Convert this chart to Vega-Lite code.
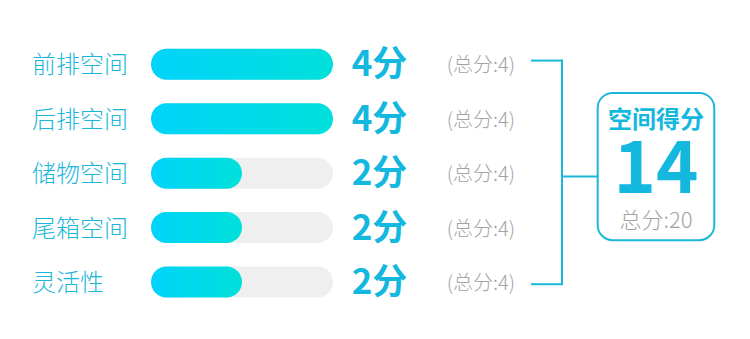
{
  "$schema": "https://vega.github.io/schema/vega-lite/v6.json",
  "width": 750,
  "height": 339,
  "autosize": {"type": "none"},
  "padding": 0,
  "background": "white",
  "config": {"view": {"stroke": null}, "font": "Noto Sans CJK SC"},
  "datasets": {
    "rows": [
      {"row": 0, "item": "前排空间", "score": 4, "total": 4, "scoreLabel": "4分", "totalLabel": "(总分:4)"},
      {"row": 1, "item": "后排空间", "score": 4, "total": 4, "scoreLabel": "4分", "totalLabel": "(总分:4)"},
      {"row": 2, "item": "储物空间", "score": 2, "total": 4, "scoreLabel": "2分", "totalLabel": "(总分:4)"},
      {"row": 3, "item": "尾箱空间", "score": 2, "total": 4, "scoreLabel": "2分", "totalLabel": "(总分:4)"},
      {"row": 4, "item": "灵活性", "score": 2, "total": 4, "scoreLabel": "2分", "totalLabel": "(总分:4)"}
    ],
    "summary": [
      {"title": "空间得分", "score": 14, "totalLabel": "总分:20"}
    ]
  },
  "layer": [
    {
      "data": {"name": "rows"},
      "mark": {"type": "bar", "orient": "horizontal", "height": 31, "cornerRadius": 15.5, "fill": "#efefef"},
      "encoding": {
        "x": {"field": "total", "type": "quantitative", "scale": {"domain": [-3.3187, 13.1648], "nice": false, "zero": false}, "axis": null},
        "x2": {"datum": 0},
        "y": {"field": "row", "type": "quantitative", "scale": {"domain": [-1.0869, 4.9532], "nice": false, "zero": false, "reverse": true}, "axis": null}
      }
    },
    {
      "data": {"name": "rows"},
      "mark": {"type": "bar", "orient": "horizontal", "height": 31, "cornerRadius": 15.5,
        "fill": {"gradient": "linear", "x1": 0, "y1": 0, "x2": 1, "y2": 0, "stops": [{"offset": 0, "color": "#00d3fa"}, {"offset": 1, "color": "#00e0da"}]}},
      "encoding": {
        "x": {"field": "score", "type": "quantitative", "scale": {"domain": [-3.3187, 13.1648], "nice": false, "zero": false}, "axis": null},
        "x2": {"datum": 0},
        "y": {"field": "row", "type": "quantitative", "scale": {"domain": [-1.0869, 4.9532], "nice": false, "zero": false, "reverse": true}, "axis": null}
      }
    },
    {
      "data": {"name": "rows"},
      "mark": {"type": "text", "align": "left", "baseline": "middle", "dy": 2, "fontSize": 24, "fontWeight": 300, "color": "#1cb6da", "font": "Noto Sans CJK SC"},
      "encoding": {
        "x": {"datum": -2.615, "type": "quantitative", "scale": {"domain": [-3.3187, 13.1648], "nice": false, "zero": false}, "axis": null},
        "y": {"field": "row", "type": "quantitative", "scale": {"domain": [-1.0869, 4.9532], "nice": false, "zero": false, "reverse": true}, "axis": null},
        "text": {"field": "item"}
      }
    },
    {
      "data": {"name": "rows"},
      "mark": {"type": "text", "align": "left", "baseline": "middle", "dy": 1, "fontSize": 35, "fontWeight": "bold", "color": "#14b8de", "font": "Noto Sans CJK SC"},
      "encoding": {
        "x": {"datum": 4.411, "type": "quantitative", "scale": {"domain": [-3.3187, 13.1648], "nice": false, "zero": false}, "axis": null},
        "y": {"field": "row", "type": "quantitative", "scale": {"domain": [-1.0869, 4.9532], "nice": false, "zero": false, "reverse": true}, "axis": null},
        "text": {"field": "scoreLabel"}
      }
    },
    {
      "data": {"name": "rows"},
      "mark": {"type": "text", "align": "left", "baseline": "middle", "dy": 2, "fontSize": 20, "fontWeight": 300, "color": "#a3a3a3", "font": "Noto Sans CJK SC"},
      "encoding": {
        "x": {"datum": 6.499, "type": "quantitative", "scale": {"domain": [-3.3187, 13.1648], "nice": false, "zero": false}, "axis": null},
        "y": {"field": "row", "type": "quantitative", "scale": {"domain": [-1.0869, 4.9532], "nice": false, "zero": false, "reverse": true}, "axis": null},
        "text": {"field": "totalLabel"}
      }
    },
    {
      "data": {"values": [{}]},
      "mark": {"type": "rule", "color": "#1ab8db", "strokeWidth": 2},
      "encoding": {
        "x": {"datum": 8.352, "type": "quantitative", "scale": {"domain": [-3.3187, 13.1648], "nice": false, "zero": false}, "axis": null},
        "x2": {"datum": 9.033},
        "y": {"datum": -0.066, "type": "quantitative", "scale": {"domain": [-1.0869, 4.9532], "nice": false, "zero": false, "reverse": true}, "axis": null}
      }
    },
    {
      "data": {"values": [{}]},
      "mark": {"type": "rule", "color": "#1ab8db", "strokeWidth": 2},
      "encoding": {
        "x": {"datum": 8.352, "type": "quantitative", "scale": {"domain": [-3.3187, 13.1648], "nice": false, "zero": false}, "axis": null},
        "x2": {"datum": 9.033},
        "y": {"datum": 4.039, "type": "quantitative", "scale": {"domain": [-1.0869, 4.9532], "nice": false, "zero": false, "reverse": true}, "axis": null}
      }
    },
    {
      "data": {"values": [{}]},
      "mark": {"type": "rule", "color": "#1ab8db", "strokeWidth": 2},
      "encoding": {
        "x": {"datum": 9.033, "type": "quantitative", "scale": {"domain": [-3.3187, 13.1648], "nice": false, "zero": false}, "axis": null},
        "y": {"datum": -0.084, "type": "quantitative", "scale": {"domain": [-1.0869, 4.9532], "nice": false, "zero": false, "reverse": true}, "axis": null},
        "y2": {"datum": 4.057}
      }
    },
    {
      "data": {"values": [{}]},
      "mark": {"type": "rule", "color": "#1ab8db", "strokeWidth": 2},
      "encoding": {
        "x": {"datum": 9.033, "type": "quantitative", "scale": {"domain": [-3.3187, 13.1648], "nice": false, "zero": false}, "axis": null},
        "x2": {"datum": 9.817},
        "y": {"datum": 2.062, "type": "quantitative", "scale": {"domain": [-1.0869, 4.9532], "nice": false, "zero": false, "reverse": true}, "axis": null}
      }
    },
    {
      "data": {"name": "summary"},
      "mark": {"type": "rect", "fill": "white", "stroke": "#1ab8db", "strokeWidth": 2, "cornerRadius": 15},
      "encoding": {
        "x": {"datum": 9.817, "type": "quantitative", "scale": {"domain": [-3.3187, 13.1648], "nice": false, "zero": false}, "axis": null},
        "x2": {"datum": 12.38},
        "y": {"datum": 0.529, "type": "quantitative", "scale": {"domain": [-1.0869, 4.9532], "nice": false, "zero": false, "reverse": true}, "axis": null},
        "y2": {"datum": 3.23}
      }
    },
    {
      "data": {"name": "summary"},
      "mark": {"type": "text", "align": "center", "baseline": "middle", "dy": 2, "fontSize": 24, "fontWeight": "bold", "color": "#14b8de", "font": "Noto Sans CJK SC"},
      "encoding": {
        "x": {"datum": 11.099, "type": "quantitative", "scale": {"domain": [-3.3187, 13.1648], "nice": false, "zero": false}, "axis": null},
        "y": {"datum": 0.998, "type": "quantitative", "scale": {"domain": [-1.0869, 4.9532], "nice": false, "zero": false, "reverse": true}, "axis": null},
        "text": {"field": "title"}
      }
    },
    {
      "data": {"name": "summary"},
      "mark": {"type": "text", "align": "center", "baseline": "middle", "dy": 4, "fontSize": 72, "fontWeight": "bold", "color": "#14b8de", "font": "Noto Sans CJK SC"},
      "encoding": {
        "x": {"datum": 11.099, "type": "quantitative", "scale": {"domain": [-3.3187, 13.1648], "nice": false, "zero": false}, "axis": null},
        "y": {"datum": 1.889, "type": "quantitative", "scale": {"domain": [-1.0869, 4.9532], "nice": false, "zero": false, "reverse": true}, "axis": null},
        "text": {"field": "score", "type": "quantitative"}
      }
    },
    {
      "data": {"name": "summary"},
      "mark": {"type": "text", "align": "center", "baseline": "middle", "dy": 2, "fontSize": 22, "fontWeight": 300, "color": "#a3a3a3", "font": "Noto Sans CJK SC"},
      "encoding": {
        "x": {"datum": 11.099, "type": "quantitative", "scale": {"domain": [-3.3187, 13.1648], "nice": false, "zero": false}, "axis": null},
        "y": {"datum": 2.833, "type": "quantitative", "scale": {"domain": [-1.0869, 4.9532], "nice": false, "zero": false, "reverse": true}, "axis": null},
        "text": {"field": "totalLabel"}
      }
    }
  ]
}
